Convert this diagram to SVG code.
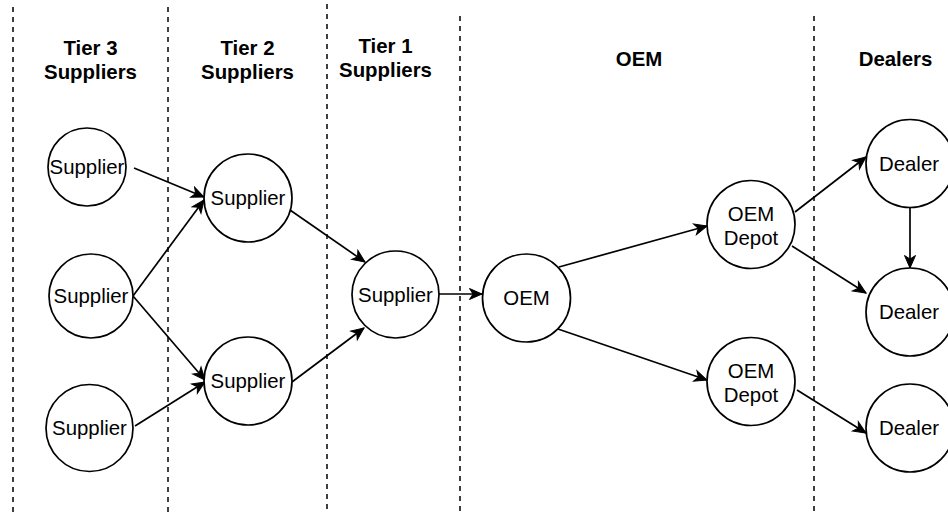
<svg xmlns="http://www.w3.org/2000/svg" width="948" height="514" viewBox="0 0 948 514">
<style>
  .lane { stroke: #000; stroke-width: 1.5; stroke-dasharray: 5 5; fill: none; }
  .node circle { fill: #fff; stroke: #000; stroke-width: 1.7; }
  .node text { font-family: "Liberation Sans", Arial, Helvetica, sans-serif; font-size: 20.4px; fill: #000; text-anchor: middle; }
  .hdr { font-family: "Liberation Sans", Arial, Helvetica, sans-serif; font-size: 20.4px; font-weight: bold; fill: #000; text-anchor: middle; }
  .edge { stroke: #000; stroke-width: 1.7; fill: none; marker-end: url(#arrow); }
</style>
<defs>
  <marker id="arrow" viewBox="-14 -7 15 14" refX="0" refY="0" markerWidth="15" markerHeight="14" markerUnits="userSpaceOnUse" orient="auto">
    <path d="M0,0 L-12.5,-5.5 L-9,0 L-12.5,5.5 Z" fill="#000" stroke="#000" stroke-width="1"/>
  </marker>
</defs>
<rect width="948" height="514" fill="#fff"/>

<g id="lanes">
  <line class="lane" x1="13" y1="7" x2="13" y2="514"/>
  <line class="lane" x1="168" y1="7" x2="168" y2="514"/>
  <line class="lane" x1="327" y1="4" x2="327" y2="514"/>
  <line class="lane" x1="460" y1="16" x2="460" y2="514"/>
  <line class="lane" x1="814" y1="16" x2="814" y2="514"/>
</g>

<g id="headers">
  <text class="hdr" x="90.5" y="55"><tspan x="90.5">Tier 3</tspan><tspan x="90.5" dy="24">Suppliers</tspan></text>
  <text class="hdr" x="247.5" y="55"><tspan x="247.5">Tier 2</tspan><tspan x="247.5" dy="24">Suppliers</tspan></text>
  <text class="hdr" x="385.5" y="53"><tspan x="385.5">Tier 1</tspan><tspan x="385.5" dy="24">Suppliers</tspan></text>
  <text class="hdr" x="639" y="66">OEM</text>
  <text class="hdr" x="895.5" y="66">Dealers</text>
</g>

<g id="connectors">
  <line class="edge" x1="134" y1="168" x2="204" y2="197"/>
  <line class="edge" x1="133" y1="296" x2="204" y2="200"/>
  <line class="edge" x1="133" y1="296" x2="205" y2="380"/>
  <line class="edge" x1="135" y1="426" x2="205" y2="382"/>
  <line class="edge" x1="290" y1="210" x2="365" y2="262"/>
  <line class="edge" x1="292" y1="382" x2="364" y2="328"/>
  <line class="edge" x1="439" y1="294" x2="482" y2="294"/>
  <line class="edge" x1="559" y1="267" x2="707" y2="226"/>
  <line class="edge" x1="558" y1="329" x2="707" y2="380"/>
  <line class="edge" x1="795" y1="212" x2="866" y2="157"/>
  <line class="edge" x1="792" y1="246" x2="866" y2="293"/>
  <line class="edge" x1="910" y1="207" x2="910" y2="268"/>
  <line class="edge" x1="797" y1="390" x2="866" y2="433"/>
</g>

<g id="t3s1" class="node"><circle cx="87" cy="167" r="39"/><text x="87" y="174">Supplier</text></g>
<g id="t3s2" class="node"><circle cx="91" cy="296" r="42"/><text x="91" y="303">Supplier</text></g>
<g id="t3s3" class="node"><circle cx="89.5" cy="428" r="43.5"/><text x="89.5" y="435">Supplier</text></g>
<g id="t2s1" class="node"><circle cx="248" cy="198" r="44"/><text x="248" y="205">Supplier</text></g>
<g id="t2s2" class="node"><circle cx="248" cy="381" r="44"/><text x="248" y="388">Supplier</text></g>
<g id="t1s" class="node"><circle cx="395.5" cy="294.5" r="43.5"/><text x="395.5" y="301.5">Supplier</text></g>
<g id="oem" class="node"><circle cx="526.5" cy="298" r="44"/><text x="526.5" y="305">OEM</text></g>
<g id="depot1" class="node"><circle cx="751" cy="224.5" r="44"/><text x="751" y="221"><tspan x="751">OEM</tspan><tspan x="751" dy="24">Depot</tspan></text></g>
<g id="depot2" class="node"><circle cx="751" cy="381.5" r="44"/><text x="751" y="378"><tspan x="751">OEM</tspan><tspan x="751" dy="24">Depot</tspan></text></g>
<g id="dealer1" class="node"><circle cx="910" cy="163.5" r="44"/><text x="909" y="170.5">Dealer</text></g>
<g id="dealer2" class="node"><circle cx="910" cy="312" r="44"/><text x="909" y="319">Dealer</text></g>
<g id="dealer3" class="node"><circle cx="910" cy="428" r="44"/><text x="909" y="435">Dealer</text></g>
</svg>
